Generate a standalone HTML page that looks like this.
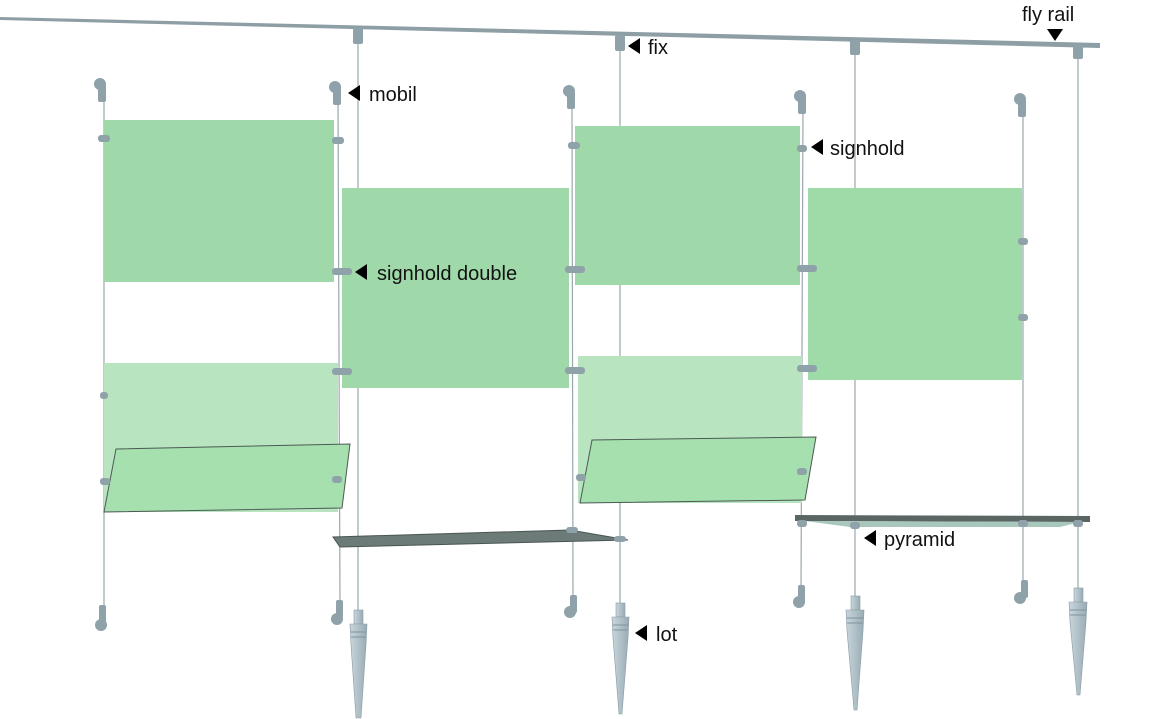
<!DOCTYPE html>
<html><head><meta charset="utf-8"><style>
html,body{margin:0;padding:0;background:#fff;}
svg{display:block;}
text{font-family:"Liberation Sans",sans-serif;font-size:20px;fill:#111;}
</style></head><body>
<svg width="1172" height="719" viewBox="0 0 1172 719" xmlns="http://www.w3.org/2000/svg">
<defs>
<linearGradient id="cone" x1="0" x2="1"><stop offset="0" stop-color="#c9d6dc"/><stop offset="1" stop-color="#98abb4"/></linearGradient>
</defs>
<polygon points="0,17 1100,43 1100,48 0,20" fill="#8d9ea5"/>
<g stroke="#9aa8ad" stroke-width="1.2">
<line x1="358" y1="40" x2="358" y2="612"/>
<line x1="620" y1="48" x2="620" y2="606"/>
<line x1="855" y1="52" x2="855" y2="600"/>
<line x1="1078" y1="56" x2="1078" y2="592"/>
<line x1="104" y1="100" x2="104" y2="608"/>
<line x1="338" y1="100" x2="340" y2="603"/>
<line x1="572" y1="105" x2="573" y2="595"/>
<line x1="803" y1="108" x2="801" y2="590"/>
<line x1="1023" y1="110" x2="1023" y2="585"/>
</g>
<g>
<rect x="104" y="120" width="230" height="162" fill="#9fd9a9"/>
<rect x="342" y="188" width="227" height="200" fill="#9fd9a9"/>
<rect x="575" y="126" width="225" height="159" fill="#9fd9a9"/>
<rect x="808" y="188" width="214" height="192" fill="#9fdaa9"/>
<rect x="104" y="363" width="234" height="149" fill="#b8e5bf"/>
<polygon points="104,512 116,449 350,444 342,508" fill="#a5e0ae" stroke="#4b5a55" stroke-width="1"/>
<rect x="578" y="356" width="224" height="147" fill="#b8e5bf"/>
<polygon points="580,503 592,440 816,437 805,500" fill="#a5e0ae" stroke="#4b5a55" stroke-width="1"/>
</g>
<polygon points="333,537 570,530 628,540 340,547" fill="#6c7b78" stroke="#4a5552"/>
<polygon points="795,515 1090,516 1090,522 795,521" fill="#5a6664"/>
<polygon points="805,521 1080,522 1060,527 850,527" fill="#a9c8bc"/>
<g fill="#8fa2aa">
<rect x="353" y="28" width="10" height="16" rx="2"/>
<rect x="615" y="35" width="10" height="16" rx="2"/>
<rect x="850" y="40" width="10" height="15" rx="2"/>
<rect x="1073" y="45" width="10" height="14" rx="2"/>
</g>
<g fill="#8fa2aa">
<circle cx="100" cy="84" r="6"/><rect x="98" y="84" width="8" height="18" rx="2"/>
<circle cx="335" cy="87" r="6"/><rect x="333" y="87" width="8" height="18" rx="2"/>
<circle cx="569" cy="91" r="6"/><rect x="567" y="91" width="8" height="18" rx="2"/>
<circle cx="800" cy="96" r="6"/><rect x="798" y="96" width="8" height="18" rx="2"/>
<circle cx="1020" cy="99" r="6"/><rect x="1018" y="99" width="8" height="18" rx="2"/>
<rect x="99" y="605" width="7" height="18" rx="2"/><circle cx="101" cy="625" r="6"/>
<rect x="336" y="600" width="7" height="18" rx="2"/><circle cx="337" cy="619" r="6"/>
<rect x="570" y="595" width="7" height="18" rx="2"/><circle cx="570" cy="612" r="6"/>
<rect x="798" y="585" width="7" height="18" rx="2"/><circle cx="799" cy="602" r="6"/>
<rect x="1021" y="580" width="7" height="18" rx="2"/><circle cx="1020" cy="598" r="6"/>
</g>
<g fill="#8fa2aa">
<rect x="98" y="135" width="12" height="7" rx="3"/><rect x="332" y="137" width="12" height="7" rx="3"/>
<rect x="332" y="268" width="20" height="7" rx="3"/><rect x="332" y="368" width="20" height="7" rx="3"/>
<rect x="565" y="266" width="20" height="7" rx="3"/><rect x="565" y="367" width="20" height="7" rx="3"/>
<rect x="568" y="142" width="12" height="7" rx="3"/><rect x="797" y="145" width="10" height="7" rx="3"/>
<rect x="797" y="265" width="20" height="7" rx="3"/><rect x="797" y="365" width="20" height="7" rx="3"/>
<rect x="1018" y="238" width="10" height="7" rx="3"/><rect x="1018" y="314" width="10" height="7" rx="3"/>
<rect x="100" y="392" width="8" height="7" rx="3"/><rect x="100" y="478" width="10" height="7" rx="3"/>
<rect x="332" y="476" width="10" height="7" rx="3"/><rect x="576" y="474" width="10" height="7" rx="3"/>
<rect x="797" y="468" width="10" height="7" rx="3"/>
<rect x="566" y="527" width="12" height="6" rx="3"/><rect x="614" y="536" width="12" height="6" rx="3"/>
<rect x="797" y="520" width="10" height="7" rx="3"/><rect x="850" y="522" width="10" height="7" rx="3"/>
<rect x="1018" y="520" width="10" height="7" rx="3"/><rect x="1073" y="520" width="10" height="7" rx="3"/>
</g>
<g fill="url(#cone)" stroke="#8a9ca5" stroke-width="0.6">
<rect x="354" y="610" width="9" height="14"/><polygon points="350,624 367,624 366,645 361,718 356,718 351,645"/>
<rect x="616" y="603" width="9" height="14"/><polygon points="612,617 629,617 628,638 622,714 619,714 613,638"/>
<rect x="851" y="596" width="9" height="14"/><polygon points="846,610 864,610 863,631 857,710 854,710 847,631"/>
<rect x="1074" y="588" width="9" height="14"/><polygon points="1069,602 1087,602 1086,622 1080,695 1077,695 1070,622"/>
</g>
<g stroke="#7f939c" stroke-width="1">
<line x1="351" y1="632" x2="366" y2="632"/><line x1="351" y1="637" x2="366" y2="637"/>
<line x1="613" y1="625" x2="628" y2="625"/><line x1="613" y1="630" x2="628" y2="630"/>
<line x1="847" y1="618" x2="863" y2="618"/><line x1="847" y1="623" x2="863" y2="623"/>
<line x1="1070" y1="610" x2="1086" y2="610"/><line x1="1070" y1="615" x2="1086" y2="615"/>
</g>
<g fill="#000">
<polygon points="1047,29 1063,29 1055,41"/>
<polygon points="628,46 640,38 640,54"/>
<polygon points="348,93 360,85 360,101"/>
<polygon points="811,147 823,139 823,155"/>
<polygon points="355,272 367,264 367,280"/>
<polygon points="864,538 876,530 876,546"/>
<polygon points="635,633 647,625 647,641"/>
</g>
<text x="1022" y="21">fly rail</text>
<text x="648" y="54">fix</text>
<text x="369" y="101">mobil</text>
<text x="830" y="155">signhold</text>
<text x="377" y="280">signhold double</text>
<text x="884" y="546">pyramid</text>
<text x="656" y="641">lot</text>
</svg>
</body></html>
